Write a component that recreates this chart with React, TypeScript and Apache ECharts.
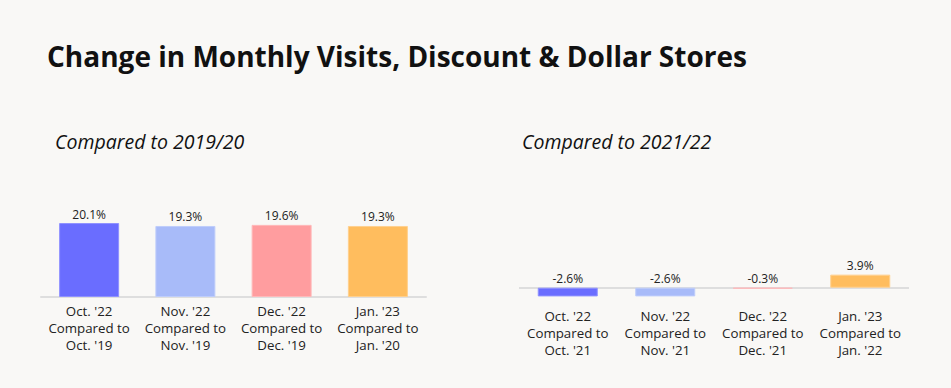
import React, { useEffect, useRef } from "react";
import * as echarts from "echarts";

const TITLE = "Change in Monthly Visits, Discount & Dollar Stores";
const SUBTITLE_LEFT = "Compared to 2019/20";
const SUBTITLE_RIGHT = "Compared to 2021/22";

const leftCategories = [
  "Oct. '22\nCompared to\nOct. '19",
  "Nov. '22\nCompared to\nNov. '19",
  "Dec. '22\nCompared to\nDec. '19",
  "Jan. '23\nCompared to\nJan. '20",
];
const leftValues = [20.1, 19.3, 19.6, 19.3];

const rightCategories = [
  "Oct. '22\nCompared to\nOct. '21",
  "Nov. '22\nCompared to\nNov. '21",
  "Dec. '22\nCompared to\nDec. '21",
  "Jan. '23\nCompared to\nJan. '22",
];
const rightValues = [-2.6, -2.6, -0.3, 3.9];

const barColors = ["#6a6dff", "#a8bbf9", "#ff9d9f", "#ffbd5e"];
const barBorders = ["#8f91ff", "#bfcdfb", "#ffb9ba", "#ffd08e"];

const FONT = "'Open Sans', 'Noto Sans', sans-serif";

export default function App() {
  const ref = useRef<HTMLDivElement>(null);

  useEffect(() => {
    document.body.style.margin = "0";
    if (!ref.current) return;
    const chart = echarts.init(ref.current, undefined, { renderer: "svg" });

    const mkData = (vals: number[]) =>
      vals.map((v, i) => ({
        value: v,
        itemStyle: { color: barColors[i], borderColor: barBorders[i], borderWidth: 1 },
      }));

    const xAxisCommon = {
      type: "category" as const,
      axisTick: { show: false },
      axisLine: { lineStyle: { color: "#dedede", width: 2 } },
      axisLabel: {
        fontFamily: FONT,
        fontSize: 13.3,
        lineHeight: 17,
        color: "#222",
        interval: 0,
      },
    };

    const labelCommon = {
      show: true,
      position: "top" as const,
      distance: 3,
      fontFamily: FONT,
      fontSize: 12,
      color: "#222",
      formatter: (p: any) => `${p.value}%`,
    };

    chart.setOption({
      animation: false,
      backgroundColor: "#f9f8f6",
      title: [
        {
          text: TITLE,
          left: 47,
          top: 42,
          padding: 0,
          textStyle: { fontFamily: FONT, fontSize: 28, fontWeight: "bold", color: "#111" },
        },
        {
          text: SUBTITLE_LEFT,
          left: 55,
          top: 131,
          padding: 0,
          textStyle: { fontFamily: FONT, fontSize: 19.5, fontStyle: "italic", fontWeight: "normal", color: "#111" },
        },
        {
          text: SUBTITLE_RIGHT,
          left: 522,
          top: 131,
          padding: 0,
          textStyle: { fontFamily: FONT, fontSize: 19.5, fontStyle: "italic", fontWeight: "normal", color: "#111" },
        },
      ],
      grid: [
        { left: 41, width: 385, top: 205, height: 92 },
        { left: 519, width: 390, top: 220.7, height: 80.4 },
      ],
      xAxis: [
        { ...xAxisCommon, gridIndex: 0, data: leftCategories, axisLabel: { ...xAxisCommon.axisLabel, margin: 5 } },
        { ...xAxisCommon, gridIndex: 1, data: rightCategories, position: "bottom", axisLabel: { ...xAxisCommon.axisLabel, margin: 6 }, axisLine: { ...xAxisCommon.axisLine, onZero: false, show: false } },
      ],
      yAxis: [
        { type: "value", gridIndex: 0, min: 0, max: 25, show: false },
        { type: "value", gridIndex: 1, min: -4, max: 20, show: false },
      ],
      series: [
        {
          type: "bar",
          xAxisIndex: 0,
          yAxisIndex: 0,
          barWidth: 60,
          data: mkData(leftValues),
          label: labelCommon,
        },
        {
          type: "bar",
          xAxisIndex: 1,
          yAxisIndex: 1,
          barWidth: 60,
          data: mkData(rightValues),
          label: labelCommon,
          markLine: {
            silent: true,
            symbol: "none",
            label: { show: false },
            lineStyle: { color: "#dedede", width: 2, type: "solid" },
            data: [{ yAxis: 0 }],
            z: 1,
          },
        },
      ],
    });

    return () => chart.dispose();
  }, []);

  return <div ref={ref} style={{ width: 951, height: 388 }} />;
}
